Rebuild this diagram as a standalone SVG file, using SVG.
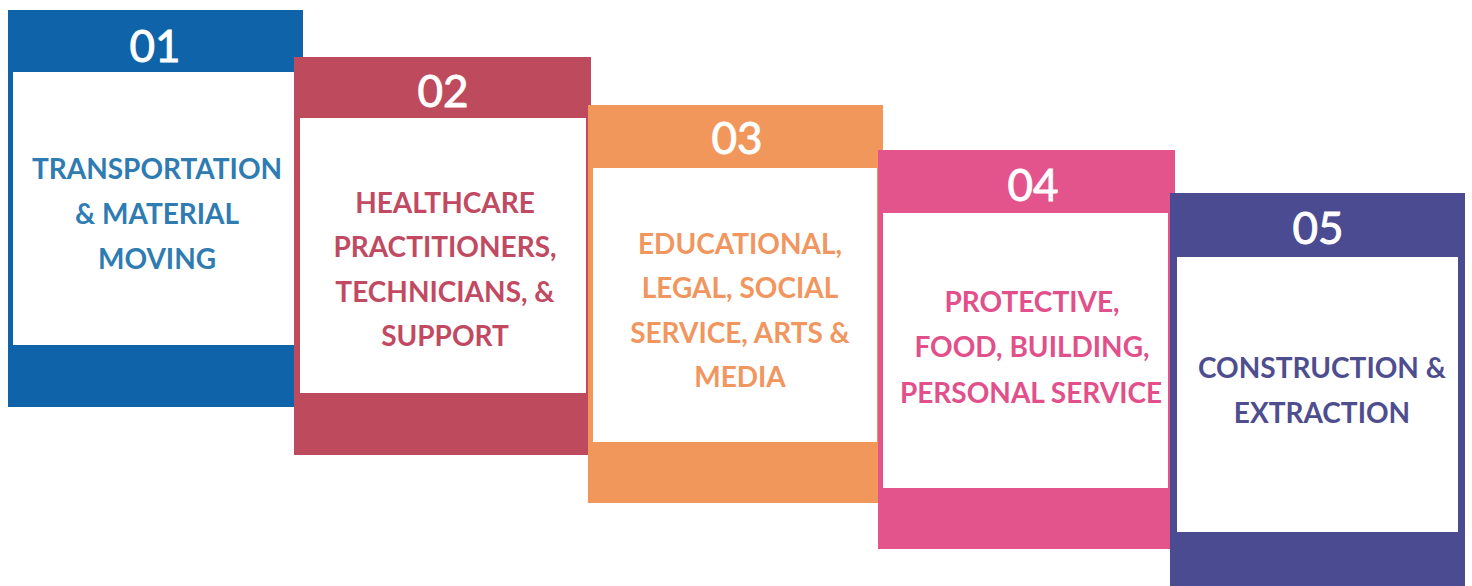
<svg xmlns="http://www.w3.org/2000/svg" width="1472" height="586" viewBox="0 0 1472 586">
  <style>
    .num { font-family: Lato, "Liberation Sans", sans-serif; font-weight: 400; font-size: 44px; fill: #ffffff; stroke: #ffffff; stroke-width: 0.9px; text-anchor: middle; }
    .lbl { font-family: Lato, "Liberation Sans", sans-serif; font-weight: 700; font-size: 28px; text-anchor: middle; }
    .inner { fill: #ffffff; }
    .c1 { fill: #0f64a9; } .t1 { fill: #2e7cb2; }
    .c2 { fill: #bd4b5d; } .t2 { fill: #c14a62; }
    .c3 { fill: #f1975b; } .t3 { fill: #f0965e; }
    .c4 { fill: #e2548b; } .t4 { fill: #e1508a; }
    .c5 { fill: #4b4b92; } .t5 { fill: #4e4e8f; }
  </style>
  <rect width="1472" height="586" fill="#ffffff"/>

  <!-- Step 01 -->
  <g id="step-01">
    <rect class="c1" x="8" y="10" width="295" height="397"/>
    <rect class="inner" x="13" y="72" width="283" height="273"/>
    <text class="num" x="155" y="62">01</text>
    <text class="lbl t1" x="157" y="179">TRANSPORTATION</text>
    <text class="lbl t1" x="157" y="224">&amp; MATERIAL</text>
    <text class="lbl t1" x="157" y="269">MOVING</text>
  </g>

  <!-- Step 02 -->
  <g id="step-02">
    <rect class="c2" x="294" y="57" width="297" height="398"/>
    <rect class="inner" x="300" y="118" width="286" height="275"/>
    <text class="num" x="443" y="107">02</text>
    <text class="lbl t2" x="445" y="213">HEALTHCARE</text>
    <text class="lbl t2" x="445" y="257">PRACTITIONERS,</text>
    <text class="lbl t2" x="445" y="302">TECHNICIANS, &amp;</text>
    <text class="lbl t2" x="445" y="346">SUPPORT</text>
  </g>

  <!-- Step 03 -->
  <g id="step-03">
    <rect class="c3" x="588" y="105" width="295" height="398"/>
    <rect class="inner" x="593" y="168" width="284" height="274"/>
    <text class="num" x="737" y="154">03</text>
    <text class="lbl t3" x="740" y="254">EDUCATIONAL,</text>
    <text class="lbl t3" x="740" y="298">LEGAL, SOCIAL</text>
    <text class="lbl t3" x="740" y="343">SERVICE, ARTS &amp;</text>
    <text class="lbl t3" x="740" y="387">MEDIA</text>
  </g>

  <!-- Step 04 -->
  <g id="step-04">
    <rect class="c4" x="878" y="150" width="297" height="399"/>
    <rect class="inner" x="883" y="213" width="285" height="275"/>
    <text class="num" x="1033" y="201">04</text>
    <text class="lbl t4" x="1032" y="312">PROTECTIVE,</text>
    <text class="lbl t4" x="1032" y="357">FOOD, BUILDING,</text>
    <text class="lbl t4" x="1031" y="403">PERSONAL SERVICE</text>
  </g>

  <!-- Step 05 -->
  <g id="step-05">
    <rect class="c5" x="1170" y="193" width="295" height="400"/>
    <rect class="inner" x="1177" y="257" width="281" height="275"/>
    <text class="num" x="1318" y="244">05</text>
    <text class="lbl t5" x="1322" y="378">CONSTRUCTION &amp;</text>
    <text class="lbl t5" x="1322" y="423">EXTRACTION</text>
  </g>

  <!-- no connectors in this layout -->
  <g id="connectors"/>
</svg>
